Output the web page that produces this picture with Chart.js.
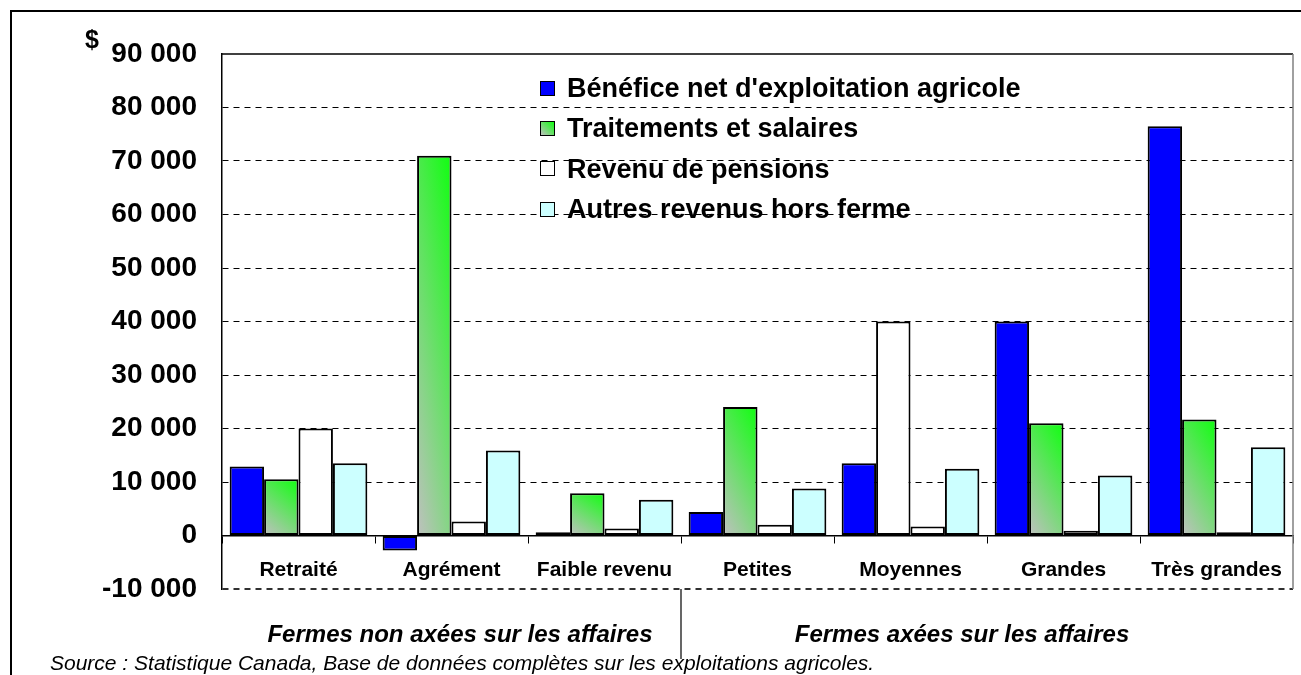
<!DOCTYPE html>
<html lang="fr">
<head>
<meta charset="utf-8">
<title>Revenu des exploitants agricoles</title>
<script src="https://cdn.jsdelivr.net/npm/chart.js@4.4.1/dist/chart.umd.min.js"></script>
<style>
  html, body { margin: 0; padding: 0; background: #fff; }
  body { width: 1301px; height: 675px; position: relative; overflow: hidden;
         font-family: "Liberation Sans", Arial, sans-serif; color: #000; }
  #cadre { position: absolute; left: 10px; top: 10px; width: 1400px; height: 800px;
           border-left: 2px solid #000; border-top: 2px solid #000; }
  canvas { position: absolute; left: 0; top: 0; }
  .texte { position: absolute; white-space: nowrap; }
  #dollar { left: 85px; top: 25px; font-size: 25px; font-weight: bold; }
  #legende { position: absolute; left: 540px; top: 68px; font-size: 27px; font-weight: bold; }
  #legende div { height: 40.3px; line-height: 40px; display: flex; align-items: center; }
  #legende span.carre { width: 13px; height: 13px; border: 1.5px solid #000; margin-right: 12px; display: inline-block; }
  .groupe { top: 620px; font-size: 24px; font-weight: bold; font-style: italic; transform: translateX(-50%); }
  #source { left: 50px; top: 651px; font-size: 21px; font-style: italic; }
</style>
</head>
<body>
<div id="cadre"></div>
<canvas id="revenusChart" width="1301" height="675"></canvas>
<div id="dollar" class="texte">$</div>
<div id="legende"></div>
<div id="groupe1" class="texte groupe" style="left:460px"></div>
<div id="groupe2" class="texte groupe" style="left:962px"></div>
<div id="source" class="texte">Source : Statistique Canada, Base de données complètes sur les exploitations agricoles.</div>
<script>
// Données (en dollars)
const categories = ['Retraité', 'Agrément', 'Faible revenu', 'Petites', 'Moyennes', 'Grandes', 'Très grandes'];
const series = ["Bénéfice net d'exploitation agricole", 'Traitements et salaires', 'Revenu de pensions', 'Autres revenus hors ferme'];
const beneficeNet = [12900, -2800, 600, 4400, 13500, 40000, 76500];
const traitements = [10500, 71000, 7900, 24000, 40000, 21000, 21700];
const pensions = [20000, 2600, 1300, 2000, 1700, 900, 600];
const autresRevenus = [13500, 15900, 6700, 8800, 12500, 11200, 16500];
const groupes = ['Fermes non axées sur les affaires', 'Fermes axées sur les affaires'];
const yMin = -10000, yMax = 90000, yPas = 10000;

const couleurs = ['#0000ff', '#7fe07f', '#ffffff', '#ccffff'];
// dans l'original la barre « Moyennes » des traitements est restée blanche
const barreBlanche = 4;

function formatMontant(v) {
    const s = String(Math.abs(v)).replace(/\B(?=(\d{3})+(?!\d))/g, ' ');
    return (v < 0 ? '-' : '') + s;
}

// dégradé gris -> vert, du coin bas-gauche au coin haut-droit de chaque barre
// (part horizontale ~35 %, verticale ~65 %)
const degradeVert = {
    id: 'degradeVert',
    beforeDatasetDraw(chart, args) {
        if (args.index !== 1) return;
        const ctx = chart.ctx;
        const a = 0.35;
        args.meta.data.forEach((bar, i) => {
            if (i === barreBlanche) return;
            const p = bar.getProps(['x', 'y', 'base', 'width']);
            const w = p.width, h = Math.max(Math.abs(p.base - p.y), 1);
            const x0 = p.x - w / 2, y0 = Math.max(p.base, p.y);
            const gx = a / w, gy = -(1 - a) / h;
            const n = gx * gx + gy * gy;
            const g = ctx.createLinearGradient(x0, y0, x0 + gx / n, y0 + gy / n);
            g.addColorStop(0, '#c0c0c0');
            g.addColorStop(1, '#10ff10');
            bar.options.backgroundColor = g;
        });
    }
};

// cadre de la zone de tracé et séparation des deux groupes
const cadreZone = {
    id: 'cadreZone',
    afterDraw(chart) {
        const { ctx, chartArea: a, scales } = chart;
        ctx.save();
        ctx.lineWidth = 1.5;
        ctx.strokeStyle = '#000';
        ctx.beginPath();
        ctx.moveTo(a.left, a.top);
        ctx.lineTo(a.right, a.top);
        ctx.stroke();
        ctx.strokeStyle = '#808080';
        ctx.beginPath();
        ctx.moveTo(a.right, a.top);
        ctx.lineTo(a.right, a.bottom);
        ctx.stroke();
        const xSep = (scales.x.getPixelForValue(2) + scales.x.getPixelForValue(3)) / 2;
        ctx.strokeStyle = '#000';
        ctx.lineWidth = 1.2;
        ctx.beginPath();
        ctx.moveTo(xSep, a.bottom);
        ctx.lineTo(xSep, a.bottom + 70);
        ctx.stroke();
        ctx.restore();
    }
};

const donnees = [beneficeNet, traitements, pensions, autresRevenus];

const ctxRevenus = document.getElementById('revenusChart').getContext('2d');
const chartRevenus = new Chart(ctxRevenus, {
    type: 'bar',
    data: {
        labels: categories,
        datasets: series.map((nom, k) => ({
            label: nom,
            data: donnees[k],
            backgroundColor: k === 1 ? (c => c.dataIndex === barreBlanche ? '#ffffff' : couleurs[1]) : couleurs[k],
            borderColor: '#000',
            borderWidth: 2,
            borderSkipped: false,
            categoryPercentage: 0.9,
            barPercentage: 1.0
        }))
    },
    options: {
        responsive: false,
        animation: false,
        layout: { padding: { left: 0, top: 54, right: 8, bottom: 86 } },
        plugins: {
            legend: { display: false },
            tooltip: { enabled: false }
        },
        scales: {
            x: {
                position: { y: 0 },
                grid: { drawOnChartArea: false, drawTicks: true, tickLength: 7, tickColor: '#000', tickWidth: 1 },
                border: { display: true, color: '#000', width: 1.5 },
                ticks: {
                    color: '#000',
                    padding: 15,
                    font: { family: '"Liberation Sans", Arial, sans-serif', size: 21, weight: 'bold' }
                }
            },
            y: {
                min: yMin,
                max: yMax,
                afterFit(scale) { scale.width = 222; },
                afterBuildTicks(scale) {
                    const t = [];
                    for (let v = yMin; v <= yMax; v += yPas) t.push({ value: v });
                    scale.ticks = t;
                },
                grid: {
                    drawTicks: false,
                    lineWidth: c => c.tick && c.tick.value === yMin ? 2 : 1,
                    color: c => {
                        if (!c.tick) return '#000';
                        if (c.tick.value === 0 || c.tick.value === yMax) return 'rgba(0,0,0,0)';
                        return c.tick.value === yMin ? '#303030' : '#000';
                    }
                },
                border: { display: true, color: '#000', width: 1.5, dash: [6, 5] },
                ticks: {
                    color: '#000',
                    padding: 25,
                    callback: v => formatMontant(v),
                    font: { family: '"Liberation Sans", Arial, sans-serif', size: 28, weight: 'bold' }
                }
            }
        }
    },
    plugins: [degradeVert, cadreZone]
});

// légende HTML construite à partir des séries
const legende = document.getElementById('legende');
chartRevenus.data.datasets.forEach((ds, k) => {
    const ligne = document.createElement('div');
    const carre = document.createElement('span');
    carre.className = 'carre';
    carre.style.background = k === 1 ? 'linear-gradient(45deg, #c0c0c0, #10ff10)' : couleurs[k];
    ligne.appendChild(carre);
    ligne.appendChild(document.createTextNode(ds.label));
    legende.appendChild(ligne);
});

document.getElementById('groupe1').textContent = groupes[0];
document.getElementById('groupe2').textContent = groupes[1];
</script>
</body>
</html>
